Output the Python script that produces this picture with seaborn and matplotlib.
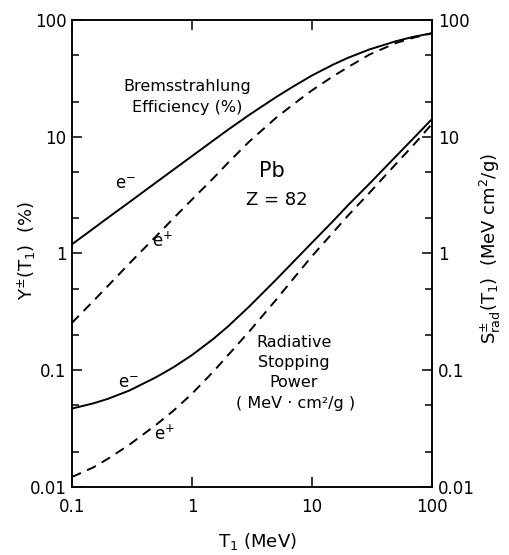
import numpy as np
import pandas as pd
import matplotlib
matplotlib.use("Agg")
import matplotlib.pyplot as plt
import matplotlib.ticker as mticker
import seaborn as sns

# ---- data ----
energy = [0.1, 0.15, 0.2, 0.3, 0.5, 0.7, 1, 1.5, 2, 3, 5, 7, 10, 15, 20, 30, 50, 70, 100]

brems_electron = [1.2, 1.63, 2.03, 2.75, 4.05, 5.22, 6.83, 9.27, 11.5, 15.4, 21.8, 27.0, 33.5,
                  41.5, 47.5, 55.9, 65.8, 71.8, 77.0]
brems_positron = [0.255, 0.39, 0.53, 0.82, 1.4, 2.0, 2.9, 4.4, 6.0, 9.1, 14.5, 19.0, 25.0,
                  33.0, 39.5, 50.5, 63.5, 70.5, 77.0]
srad_electron = [0.047, 0.052, 0.057, 0.067, 0.087, 0.106, 0.135, 0.185, 0.238, 0.352, 0.595,
                 0.85, 1.24, 1.9, 2.6, 3.95, 6.8, 9.7, 14.2]
srad_positron = [0.0122, 0.0147, 0.0175, 0.023, 0.034, 0.045, 0.063, 0.097, 0.135, 0.215,
                 0.40, 0.61, 0.95, 1.52, 2.12, 3.3, 5.85, 8.5, 12.9]

x_ticks = [0.1, 1, 10, 100]
x_ticklabels = ["0.1", "1", "10", "100"]
y_ticks = [0.01, 0.1, 1, 10, 100]
y_ticklabels = ["0.01", "0.1", "1", "10", "100"]

curves = [
    ("brems", "e-", brems_electron),
    ("brems", "e+", brems_positron),
    ("srad", "e-", srad_electron),
    ("srad", "e+", srad_positron),
]
frames = []
for quantity, particle, vals in curves:
    frames.append(pd.DataFrame({"T": energy, "value": vals,
                                "quantity": quantity, "particle": particle}))
df = pd.concat(frames, ignore_index=True)

# ---- style ----
sns.set_style("ticks")
plt.rcParams["font.family"] = ["DejaVu Sans"]
plt.rcParams["mathtext.default"] = "regular"
plt.rcParams["text.color"] = "black"
plt.rcParams["axes.labelcolor"] = "black"
plt.rcParams["xtick.color"] = "black"
plt.rcParams["ytick.color"] = "black"
plt.rcParams["axes.edgecolor"] = "black"

fig = plt.figure(figsize=(5.1, 5.55), dpi=100)
ax = fig.add_axes([0.1412, 0.1225, 0.706, 0.8415])

for (quantity, particle), sub in df.groupby(["quantity", "particle"]):
    ls = "-" if particle == "e-" else (0, (5, 3.5))
    sns.lineplot(data=sub, x="T", y="value", ax=ax, color="black",
                 linewidth=1.4, estimator=None, sort=True, legend=False,
                 linestyle=ls)

ax.set_xscale("log")
ax.set_yscale("log")
ax.set_xlim(0.1, 100)
ax.set_ylim(0.01, 100)

ax.set_xticks(x_ticks)
ax.set_xticklabels(x_ticklabels)
ax.xaxis.set_minor_locator(mticker.NullLocator())
ax.set_yticks(y_ticks)
ax.set_yticklabels(y_ticklabels)
ax.yaxis.set_minor_locator(mticker.LogLocator(base=10, subs=(2, 5)))
ax.yaxis.set_minor_formatter(mticker.NullFormatter())

for sp in ax.spines.values():
    sp.set_linewidth(1.1)
    sp.set_color("black")
    sp.set_visible(True)

ax.tick_params(axis="both", which="major", direction="in", length=7, width=1.1,
               labelsize=12, colors="black")
ax.tick_params(axis="both", which="minor", direction="in", length=5, width=1.1,
               colors="black")
ax.tick_params(axis="x", which="major", top=True, pad=8)
ax.tick_params(axis="y", which="both", left=True, right=False, pad=4)

ax2 = ax.twinx()
ax2.set_yscale("log")
ax2.set_ylim(0.01, 100)
ax2.set_yticks(y_ticks)
ax2.set_yticklabels(y_ticklabels)
ax2.yaxis.set_minor_locator(mticker.LogLocator(base=10, subs=(2, 5)))
ax2.yaxis.set_minor_formatter(mticker.NullFormatter())
ax2.tick_params(axis="y", which="major", direction="in", length=7, width=1.1,
                labelsize=12, pad=4, colors="black")
ax2.tick_params(axis="y", which="minor", direction="in", length=5, width=1.1,
                colors="black")
for sp in ax2.spines.values():
    sp.set_linewidth(1.1)
    sp.set_color("black")

ax.set_xlabel("T$_1$ (MeV)", fontsize=13, color="black")
ax.xaxis.set_label_coords(0.514, -0.094)
ax.set_ylabel("Y$^{\\pm}$(T$_1$)  (%)", fontsize=13, color="black")
ax.yaxis.label.set_verticalalignment("center")
ax.yaxis.set_label_coords(-0.125, 0.507)
ax2.set_ylabel("S$^{\\pm}_{rad}$(T$_1$)  (MeV cm$^2$/g)", fontsize=13, rotation=90,
               color="black")
ax2.yaxis.label.set_verticalalignment("center")
ax2.yaxis.set_label_coords(1.161, 0.51)

# ---- annotations ----
txt = dict(ha="center", va="center", color="black")
ax.text(0.91, 26.9, "Bremsstrahlung", fontsize=11.5, **txt)
ax.text(0.91, 17.8, "Efficiency (%)", fontsize=11.5, **txt)
ax.text(0.277, 3.96, "e$^{-}$", fontsize=12, **txt)
ax.text(0.57, 1.29, "e$^{+}$", fontsize=12, **txt)
ax.text(4.6, 5.1, "Pb", fontsize=15, **txt)
ax.text(5.1, 2.85, "Z = 82", fontsize=13, **txt)
ax.text(7.08, 0.173, "Radiative", fontsize=11.5, **txt)
ax.text(7.08, 0.116, "Stopping", fontsize=11.5, **txt)
ax.text(7.08, 0.078, "Power", fontsize=11.5, **txt)
ax.text(7.3, 0.0516, "( MeV · cm²/g )", fontsize=11.5, **txt)
ax.text(0.294, 0.078, "e$^{-}$", fontsize=12, **txt)
ax.text(0.59, 0.0283, "e$^{+}$", fontsize=12, **txt)

fig.savefig("out.png", dpi=100)
